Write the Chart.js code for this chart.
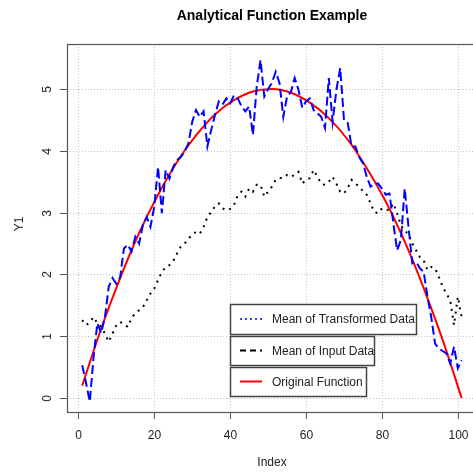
<!DOCTYPE html>
<html><head><meta charset="utf-8">
<script src="https://cdn.jsdelivr.net/npm/chart.js@4.4.1/dist/chart.umd.min.js"></script>
<style>html,body{margin:0;padding:0;background:#fff;}canvas{display:block;}</style>
</head><body>
<canvas id="c" width="473" height="475"></canvas>
<script>
const indexValues = [1,2,3,4,5,6,7,8,9,10,11,12,13,14,15,16,17,18,19,20,21,22,23,24,25,26,27,28,29,30,31,32,33,34,35,36,37,38,39,40,41,42,43,44,45,46,47,48,49,50,51,52,53,54,55,56,57,58,59,60,61,62,63,64,65,66,67,68,69,70,71,72,73,74,75,76,77,78,79,80,81,82,83,84,85,86,87,88,89,90,91,92,93,94,95,96,97,98,99,100,101];
const transformedMean = [0.53,0.25,-0.06,0.66,1.21,1.05,1.31,1.80,1.94,1.85,1.95,2.42,2.48,2.37,2.61,2.50,2.80,2.93,2.77,3.10,3.74,2.99,3.69,3.55,3.74,3.85,3.90,3.99,4.12,4.47,4.66,4.55,4.64,4.07,4.34,4.58,4.80,4.75,4.85,4.77,4.90,4.85,4.72,4.64,4.72,4.26,5.04,5.47,4.88,5.00,5.10,5.28,5.10,4.55,4.88,4.95,5.18,4.99,4.70,4.80,4.85,4.66,4.61,4.55,4.37,5.18,4.47,4.99,5.34,4.50,4.45,4.07,4.07,3.90,3.80,3.58,3.42,3.47,3.47,3.39,3.29,3.31,2.83,2.39,2.56,3.39,2.77,2.18,2.20,2.10,2.04,1.64,1.31,0.88,0.80,0.76,0.72,0.56,0.83,0.48,0.61];
const inputMean = [1.26,1.18,1.22,1.31,1.21,1.15,1.04,0.91,1.04,1.18,1.23,1.20,1.15,1.29,1.37,1.42,1.47,1.58,1.69,1.77,1.91,2.04,2.12,2.15,2.22,2.34,2.45,2.50,2.58,2.64,2.69,2.66,2.77,2.93,3.01,3.10,3.15,3.07,3.04,3.06,3.12,3.28,3.34,3.26,3.39,3.34,3.45,3.45,3.26,3.34,3.42,3.53,3.56,3.56,3.61,3.58,3.61,3.66,3.47,3.53,3.56,3.69,3.58,3.47,3.45,3.50,3.58,3.47,3.34,3.31,3.40,3.53,3.47,3.42,3.35,3.29,3.15,3.01,2.99,3.07,3.05,3.04,3.15,2.99,2.80,2.70,2.66,2.50,2.39,2.28,2.23,2.07,2.12,2.10,1.96,1.80,1.69,1.58,1.18,1.64,1.31];
const functionIndex = [1,6,11,16,21,26,31,36,41,46,51,56,61,66,71,76,81,86,91,96,101];
const originalFunction = [0.20,1.12,1.94,2.67,3.29,3.82,4.25,4.59,4.82,4.96,5.00,4.94,4.78,4.53,4.18,3.72,3.18,2.53,1.78,0.94,0.00];
const xTicks = [0,20,40,60,80,100];
const yTicks = [0,1,2,3,4,5];
const legendLabels = ['Mean of Transformed Data','Mean of Input Data','Original Function'];
const titleText = 'Analytical Function Example';
const xTitle = 'Index';
const yTitle = 'Y1';

const FONT = '"Liberation Sans", Arial, Helvetica, sans-serif';
const toPts = (xs, ys) => xs.map((v, i) => ({x: v, y: ys[i]}));

const rDecor = {
  id: 'rDecor',
  beforeDatasetsDraw(chart) {
    const {ctx, chartArea: a, scales: {x, y}} = chart;
    ctx.save();
    ctx.strokeStyle = '#c4c4c4'; ctx.lineWidth = 1; ctx.setLineDash([1, 2]);
    xTicks.forEach(v => {
      const px = Math.round(x.getPixelForValue(v)) + 0.5;
      ctx.beginPath(); ctx.moveTo(px, a.top); ctx.lineTo(px, a.bottom); ctx.stroke();
    });
    yTicks.forEach(v => {
      const py = Math.round(y.getPixelForValue(v)) + 0.5;
      ctx.beginPath(); ctx.moveTo(a.left, py); ctx.lineTo(a.right, py); ctx.stroke();
    });
    ctx.restore();
  },
  afterDatasetsDraw(chart) {
    const {ctx, chartArea: a, scales: {x, y}} = chart;
    ctx.save();
    ctx.strokeStyle = '#555'; ctx.lineWidth = 1.2; ctx.setLineDash([]);
    ctx.strokeRect(a.left + 0.5, a.top + 0.5, a.right - a.left + 20, a.bottom - a.top);
    ctx.fillStyle = '#222';
    ctx.font = '12px ' + FONT;
    ctx.textAlign = 'center'; ctx.textBaseline = 'middle';
    ctx.lineWidth = 1; ctx.strokeStyle = '#555';
    xTicks.forEach(v => {
      const px = Math.round(x.getPixelForValue(v)) + 0.5;
      ctx.beginPath(); ctx.moveTo(px, a.bottom); ctx.lineTo(px, a.bottom + 7); ctx.stroke();
      ctx.fillText(String(v), px, a.bottom + 24);
    });
    yTicks.forEach(v => {
      const py = Math.round(y.getPixelForValue(v)) + 0.5;
      ctx.beginPath(); ctx.moveTo(a.left, py); ctx.lineTo(a.left - 7, py); ctx.stroke();
      ctx.save(); ctx.translate(a.left - 19, py); ctx.rotate(-Math.PI / 2);
      ctx.fillText(String(v), 0, 0); ctx.restore();
    });
    ctx.fillText(xTitle, 272, 463);
    ctx.save(); ctx.translate(20, 224); ctx.rotate(-Math.PI / 2); ctx.fillText(yTitle, 0, 0); ctx.restore();
    ctx.fillStyle = '#000';
    ctx.font = 'bold 14px ' + FONT;
    ctx.fillText(titleText, 272, 16);
    const boxes = [
      {y0: 304, y1: 334, x1: 416, color: '#0000FF', dash: [2, 3], lw: 1.5},
      {y0: 336, y1: 365, x1: 374, color: '#000000', dash: [6, 4], lw: 2},
      {y0: 367, y1: 396, x1: 366, color: '#FF0000', dash: [], lw: 2}
    ];
    ctx.font = '12px ' + FONT;
    ctx.textAlign = 'left';
    boxes.forEach((b, i) => {
      ctx.setLineDash([]);
      ctx.fillStyle = '#fff';
      ctx.fillRect(230, b.y0, b.x1 - 230, b.y1 - b.y0);
      ctx.strokeStyle = '#444'; ctx.lineWidth = 1.5;
      ctx.strokeRect(230.5, b.y0 + 0.5, b.x1 - 230, b.y1 - b.y0);
      const cy = (b.y0 + b.y1) / 2;
      ctx.strokeStyle = b.color; ctx.lineWidth = b.lw; ctx.setLineDash(b.dash);
      ctx.beginPath(); ctx.moveTo(240, cy); ctx.lineTo(262, cy); ctx.stroke();
      ctx.setLineDash([]);
      ctx.fillStyle = '#222';
      ctx.fillText(legendLabels[i], 272, cy + 1);
    });
    ctx.restore();
  }
};

new Chart(document.getElementById('c'), {
  type: 'line',
  data: {
    datasets: [
      {label: legendLabels[0], data: toPts(indexValues, transformedMean), borderColor: '#0000FF', borderWidth: 2, borderDash: [9, 4], pointRadius: 0, tension: 0, fill: false},
      {label: legendLabels[1], data: toPts(indexValues, inputMean), borderColor: '#000000', borderWidth: 2, borderDash: [2, 5], pointRadius: 0, tension: 0, fill: false},
      {label: legendLabels[2], data: toPts(functionIndex, originalFunction), borderColor: '#FF0000', borderWidth: 2, pointRadius: 0, cubicInterpolationMode: 'monotone', fill: false}
    ]
  },
  options: {
    responsive: false,
    animation: false,
    devicePixelRatio: 1,
    layout: {padding: {left: 67, top: 44, right: 0, bottom: 63}},
    plugins: {legend: {display: false}, title: {display: false}, tooltip: {enabled: false}},
    scales: {
      x: {
        type: 'linear', min: -3, max: 104,
        afterBuildTicks: s => { s.ticks = xTicks.map(v => ({value: v})); },
        afterFit: s => { s.height = 0; },
        ticks: {display: false},
        border: {display: false},
        grid: {display: false}
      },
      y: {
        type: 'linear', min: -0.227, max: 5.73,
        afterBuildTicks: s => { s.ticks = yTicks.map(v => ({value: v})); },
        afterFit: s => { s.width = 0; },
        ticks: {display: false},
        border: {display: false},
        grid: {display: false}
      }
    }
  },
  plugins: [rDecor]
});
</script>
</body></html>
